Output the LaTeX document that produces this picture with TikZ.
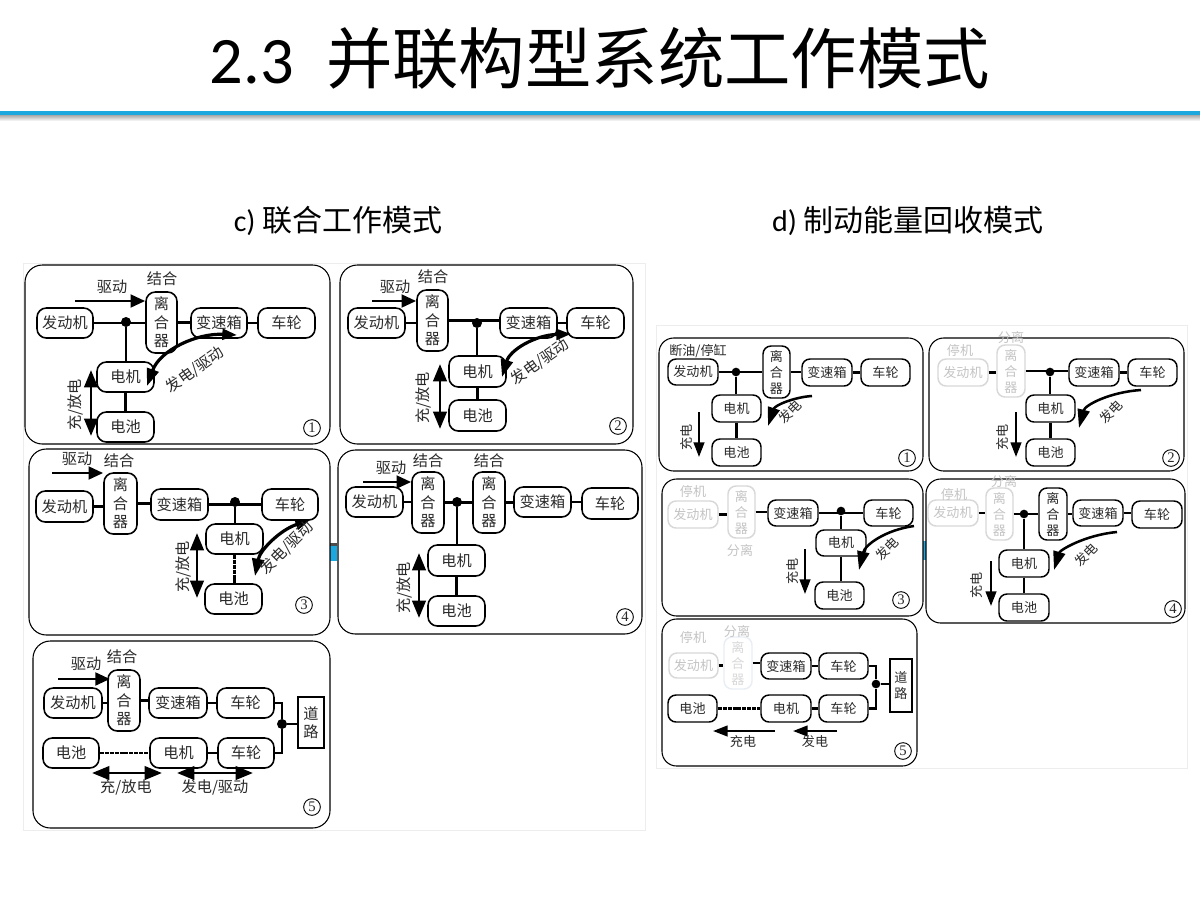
\documentclass[tikz,border=0pt]{standalone}
\usepackage{fontspec}
\setmainfont{Noto Sans CJK SC}
\newfontfamily\latfont{Carlito}
\newfontfamily\numfont{Liberation Serif}
\usetikzlibrary{arrows.meta}
\definecolor{ink}{HTML}{2A2A2A}
\definecolor{ghost}{HTML}{D8D8D8}
\definecolor{ghosttext}{HTML}{C4C4C4}
\definecolor{paleb}{HTML}{E9EEF4}
\definecolor{bar}{HTML}{1CA7DF}
\definecolor{edge}{HTML}{EDEDED}
\tikzset{
  boxbase/.style={draw=black,fill=white,rounded corners=7pt,inner sep=0pt,line width=1.2pt,text=ink,align=center},
  lbox/.style={boxbase,font=\fontsize{11.4}{13.8}\selectfont},
  rbox/.style={boxbase,rounded corners=6pt,line width=1.1pt,font=\fontsize{9.8}{12}\selectfont},
  gbox/.style={rbox,draw=ghost,text=ghosttext},
  pbox/.style={rbox,draw=paleb,text=ghost},
  square/.style={lbox,rounded corners=0pt},
  rsquare/.style={rbox,rounded corners=0pt},
  lpanel/.style={draw=black,fill=white,rounded corners=13pt,line width=.8pt},
  rpanel/.style={lpanel,rounded corners=11pt},
  lnk/.style={draw=black,line width=2.2pt},
  dlnk/.style={draw=black,line width=1.9pt,dash pattern=on 3pt off .7pt},
  dotn/.style={circle,fill=black,inner sep=0pt,minimum size=7.5pt},
  rdot/.style={dotn,minimum size=6.5pt},
  ltxt/.style={font=\fontsize{11.4}{13}\selectfont,text=ink,inner sep=0pt},
  rtxt/.style={font=\fontsize{9.8}{12}\selectfont,text=ink,inner sep=0pt},
  gtxt/.style={rtxt,text=ghosttext},
  cnum/.style={circle,draw=black,fill=white,line width=.7pt,inner sep=0pt,minimum size=12.5pt,font=\numfont\fontsize{11}{11}\selectfont,text=ink},
  larrow/.style={line width=2.2pt,-{Triangle[length=11pt,width=9.5pt]}},
  ldouble/.style={line width=2.2pt,{Triangle[length=13pt,width=10pt]}-{Triangle[length=13pt,width=10pt]}},
  rarrow/.style={line width=1.7pt,-{Triangle[length=11pt,width=8pt]}},
  lcurve/.style={line width=2.4pt,{Triangle[length=11pt,width=8pt]}-{Triangle[length=13pt,width=9pt]}},
  rcurve/.style={line width=1.9pt,-{Triangle[length=14pt,width=9pt]}},
  frameb/.style={draw=edge,fill=white,line width=.6pt},
}
\newcommand\bx[7][lbox]{\node[#1,minimum width={(#5-#3)*0.75pt},minimum height={(#6-#4)*0.75pt}] (#2) at ({(#3+#5)/2},{(#4+#6)/2}) {#7};}
\newcommand\hl[2]{\draw[lnk] (#1.east) -- (#1.east -| #2.west);}
\newcommand\vl[2]{\draw[lnk] (#1.south) -- (#1.south |- #2.north);}
\newcommand\dvl[2]{\draw[dlnk] (#1.south) -- (#1.south |- #2.north);}
\newcommand\tap[2]{\draw[lnk] (#1) -- (#1 |- #2.north);}
\newcommand\clut{离\\合\\器}
\begin{document}
\begin{tikzpicture}[x=0.75pt,y=-0.75pt]
\useasboundingbox (0,0) rectangle (1200,900);
\fill[white] (0,0) rectangle (1200,900);
% header
\node[inner sep=0pt,font=\fontsize{49.8}{52}\selectfont,text=black] (title) at (600,58) {{\latfont 2.3}\hspace{24pt}并联构型系统工作模式};
\shade[top color=black!40,bottom color=white] (0,114) rectangle (1200,121);
\fill[bar] (0,111) rectangle (1200,114.5);
\node[inner sep=0pt,font=\fontsize{22.5}{24}\selectfont,text=black] (headc) at (338,221) {{\latfont c)} 联合工作模式};
\node[inner sep=0pt,font=\fontsize{22.5}{24}\selectfont,text=black] (headd) at (908,221) {{\latfont d)} 制动能量回收模式};
% frames of the two images
\draw[frameb] (23,263) rectangle (645,830);
\draw[frameb] (656,325) rectangle (1187,768);
\fill[black!70] (329,543) rectangle (337,546);
\fill[bar] (329,546) rectangle (337,561);
\fill[bar] (922,541) rectangle (926,560);

% ---------- c 1
\draw[lpanel] (25,265) rectangle (330,444);
\bx{a-eng}{37}{308}{93}{338}{发动机}
\bx{a-cl}{146}{292}{177}{353}{\clut}
\bx{a-gb}{191}{308}{247}{338}{变速箱}
\bx{a-wh}{258}{308}{315}{338}{车轮}
\bx{a-mo}{97}{362}{154}{392}{电机}
\bx{a-ba}{97}{412}{154}{442}{电池}
\node[dotn] (a-j) at (126,322) {};
\hl{a-eng}{a-cl}\hl{a-cl}{a-gb}\hl{a-gb}{a-wh}\tap{a-j}{a-mo}\vl{a-mo}{a-ba}
\coordinate (a-s) at (75,301); \coordinate (a-u) at (91,370); \coordinate (a-v) at (91,436);
\coordinate (a-p) at (237,335); \coordinate (a-q) at (147,386);
\draw[larrow] (a-s) -- (a-s -| a-cl.west);
\draw[ldouble] (a-u) -- (a-v);
\draw[lcurve] (a-p) .. controls (197,333) and (160,350) .. (a-q);
\node[ltxt] (a-t1) at (112,287) {驱动};
\node[ltxt] (a-t2) at (162,279) {结合};
\node[ltxt,rotate=90] (a-t3) at (75,405) {充/放电};
\node[ltxt,rotate=35] (a-t4) at (195,370) {发电/驱动};
\node[cnum] (a-n) at (312,428) {1};

% ---------- c 2
\draw[lpanel] (340,265) rectangle (633,444);
\bx{b-eng}{348}{308}{405}{338}{发动机}
\bx{b-cl}{417}{290}{448}{351}{\clut}
\bx{b-gb}{500}{308}{557}{338}{变速箱}
\bx{b-wh}{567}{308}{624}{338}{车轮}
\bx{b-mo}{449}{356}{506}{387}{电机}
\bx{b-ba}{449}{400}{506}{431}{电池}
\node[dotn] (b-j) at (477,323) {};
\hl{b-eng}{b-cl}\hl{b-cl}{b-gb}\hl{b-gb}{b-wh}\tap{b-j}{b-mo}\vl{b-mo}{b-ba}
\coordinate (b-s) at (372,301); \coordinate (b-u) at (440,364); \coordinate (b-v) at (440,429);
\coordinate (b-p) at (571,334); \coordinate (b-q) at (502,377);
\draw[larrow] (b-s) -- (b-s -| b-cl.west);
\draw[ldouble] (b-u) -- (b-v);
\draw[lcurve] (b-p) .. controls (535,335) and (510,350) .. (b-q);
\node[ltxt] (b-t1) at (395,287) {驱动};
\node[ltxt] (b-t2) at (433,277) {结合};
\node[ltxt,rotate=90] (b-t3) at (423,398) {充/放电};
\node[ltxt,rotate=35] (b-t4) at (540,362) {发电/驱动};
\node[cnum] (b-n) at (618,426) {2};

% ---------- c 3
\draw[lpanel] (29,449) rectangle (330,635);
\bx{c-eng}{36}{491}{93}{522}{发动机}
\bx{c-cl}{104}{473}{137}{534}{\clut}
\bx{c-gb}{151}{489}{208}{520}{变速箱}
\bx{c-wh}{262}{489}{318}{520}{车轮}
\bx{c-mo}{206}{524}{263}{554}{电机}
\bx{c-ba}{205}{584}{262}{614}{电池}
\node[dotn] (c-j) at (235,502) {};
\hl{c-eng}{c-cl}\hl{c-cl}{c-gb}\hl{c-gb}{c-wh}\tap{c-j}{c-mo}\dvl{c-mo}{c-ba}
\coordinate (c-s) at (52,473); \coordinate (c-u) at (197,533); \coordinate (c-v) at (197,598);
\coordinate (c-p) at (310,520); \coordinate (c-q) at (255,576);
\draw[larrow] (c-s) -- (c-s -| c-cl.west);
\draw[ldouble] (c-u) -- (c-v);
\draw[lcurve] (c-p) .. controls (280,530) and (260,550) .. (c-q);
\node[ltxt] (c-t1) at (77,459) {驱动};
\node[ltxt] (c-t2) at (119,461) {结合};
\node[ltxt,rotate=90] (c-t3) at (183,567) {充/放电};
\node[ltxt,rotate=45] (c-t4) at (287,548) {发电/驱动};
\node[cnum] (c-n) at (304,605) {3};

% ---------- c 4
\draw[lpanel] (338,450) rectangle (642,634);
\bx{d-eng}{346}{487}{403}{517}{发动机}
\bx{d-cl}{412}{472}{444}{533}{\clut}
\bx{d-cm}{473}{472}{505}{533}{\clut}
\bx{d-gb}{514}{487}{571}{517}{变速箱}
\bx{d-wh}{582}{488}{638}{519}{车轮}
\bx{d-mo}{428}{545}{485}{576}{电机}
\bx{d-ba}{428}{596}{485}{626}{电池}
\node[dotn] (d-j) at (457,502) {};
\hl{d-eng}{d-cl}\hl{d-cl}{d-cm}\hl{d-cm}{d-gb}\hl{d-gb}{d-wh}\tap{d-j}{d-mo}\vl{d-mo}{d-ba}
\coordinate (d-s) at (363,482); \coordinate (d-u) at (419,553); \coordinate (d-v) at (419,618);
\draw[larrow] (d-s) -- (d-s -| d-cl.west);
\draw[ldouble] (d-u) -- (d-v);
\node[ltxt] (d-t1) at (391,468) {驱动};
\node[ltxt] (d-t2) at (428,461) {结合};
\node[ltxt] (d-t5) at (489,461) {结合};
\node[ltxt,rotate=90] (d-t3) at (404,588) {充/放电};
\node[cnum] (d-n) at (625,617) {4};

% ---------- c 5
\draw[lpanel] (33,641) rectangle (330,828);
\bx{e-eng}{44}{688}{102}{718}{发动机}
\bx{e-cl}{108}{670}{140}{731}{\clut}
\bx{e-gb}{149}{688}{207}{718}{变速箱}
\bx{e-wh}{217}{688}{274}{718}{车轮}
\bx{e-ba}{43}{738}{99}{768}{电池}
\bx{e-mo}{150}{738}{207}{768}{电机}
\bx{e-wi}{218}{738}{274}{768}{车轮}
\bx[square]{e-rd}{298}{697}{324}{748}{道\\路}
\node[dotn] (e-j) at (282,724) {};
\hl{e-eng}{e-cl}\hl{e-cl}{e-gb}\hl{e-gb}{e-wh}\hl{e-mo}{e-wi}
\draw[dlnk] (e-ba.east) -- (e-ba.east -| e-mo.west);
\draw[lnk] (e-wh.east) -| (e-j);
\draw[lnk] (e-wi.east) -| (e-j);
\draw[lnk] (e-j) -- (e-j -| e-rd.west);
\coordinate (e-s) at (58,679);
\coordinate (e-u1) at (92,773); \coordinate (e-v1) at (162,773);
\coordinate (e-u2) at (177,773); \coordinate (e-v2) at (253,773);
\draw[larrow] (e-s) -- (110,679);
\draw[ldouble] (e-u1) -- (e-v1);
\draw[ldouble] (e-u2) -- (e-v2);
\node[ltxt] (e-t1) at (86,664) {驱动};
\node[ltxt] (e-t2) at (122,657) {结合};
\node[ltxt] (e-t3) at (126,787) {充/放电};
\node[ltxt] (e-t4) at (215,787) {发电/驱动};
\node[cnum] (e-n) at (312,807) {5};

% ---------- d 1
\draw[rpanel] (659,338) rectangle (923,471);
\bx[rbox]{f-eng}{668}{359}{718}{385}{发动机}
\bx[rbox]{f-cl}{763}{346}{790}{398}{\clut}
\bx[rbox]{f-gb}{802}{359}{852}{386}{变速箱}
\bx[rbox]{f-wh}{861}{359}{910}{386}{车轮}
\bx[rbox]{f-mo}{712}{395}{761}{422}{电机}
\bx[rbox]{f-ba}{712}{439}{761}{466}{电池}
\node[rdot] (f-j) at (736,372) {};
\hl{f-eng}{f-cl}\hl{f-cl}{f-gb}\hl{f-gb}{f-wh}\tap{f-j}{f-mo}\vl{f-mo}{f-ba}
\coordinate (f-u) at (699,412); \coordinate (f-v) at (699,457);
\coordinate (f-p) at (812,396); \coordinate (f-q) at (768,426);
\draw[rarrow] (f-u) -- (f-v);
\draw[rcurve] (f-p) .. controls (795,397) and (775,405) .. (f-q);
\node[rtxt] (f-t1) at (698,351) {断油/停缸};
\node[rtxt,rotate=90] (f-t3) at (687,437) {充电};
\node[rtxt,rotate=45] (f-t4) at (790,412) {发电};
\node[cnum] (f-n) at (907,458) {1};

% ---------- d 2
\draw[rpanel] (929,338) rectangle (1184,471);
\bx[gbox]{g-eng}{938}{359}{988}{386}{发动机}
\bx[gbox]{g-cl}{997}{345}{1025}{397}{\clut}
\bx[rbox]{g-gb}{1069}{359}{1119}{386}{变速箱}
\bx[rbox]{g-wh}{1128}{359}{1177}{386}{车轮}
\bx[rbox]{g-mo}{1026}{395}{1075}{422}{电机}
\bx[rbox]{g-ba}{1026}{439}{1075}{466}{电池}
\node[rdot] (g-j) at (1050,372) {};
\hl{g-eng}{g-cl}\hl{g-cl}{g-gb}\hl{g-gb}{g-wh}\tap{g-j}{g-mo}\vl{g-mo}{g-ba}
\coordinate (g-u) at (1016,412); \coordinate (g-v) at (1016,457);
\coordinate (g-p) at (1141,390); \coordinate (g-q) at (1079,428);
\draw[rarrow] (g-u) -- (g-v);
\draw[rcurve] (g-p) .. controls (1110,392) and (1085,405) .. (g-q);
\node[gtxt] (g-t1) at (960,350) {停机};
\node[gtxt] (g-t2) at (1011,338) {分离};
\node[rtxt,rotate=90] (g-t3) at (1003,437) {充电};
\node[rtxt,rotate=45] (g-t4) at (1111,412) {发电};
\node[cnum] (g-n) at (1171,458) {2};

% ---------- d 3
\draw[rpanel] (662,479) rectangle (923,616);
\bx[gbox]{h-eng}{668}{501}{718}{528}{发动机}
\bx[gbox]{h-cl}{728}{486}{755}{538}{\clut}
\bx[rbox]{h-gb}{768}{500}{818}{526}{变速箱}
\bx[rbox]{h-wh}{864}{500}{913}{526}{车轮}
\bx[rbox]{h-mo}{816}{530}{866}{556}{电机}
\bx[rbox]{h-ba}{815}{582}{864}{609}{电池}
\node[rdot] (h-j) at (841,511) {};
\hl{h-eng}{h-cl}\hl{h-cl}{h-gb}\hl{h-gb}{h-wh}\tap{h-j}{h-mo}\vl{h-mo}{h-ba}
\coordinate (h-u) at (805,549); \coordinate (h-v) at (805,594);
\coordinate (h-p) at (914,526); \coordinate (h-q) at (859,570);
\draw[rarrow] (h-u) -- (h-v);
\draw[rcurve] (h-p) .. controls (885,530) and (865,545) .. (h-q);
\node[gtxt] (h-t1) at (693,491) {停机};
\node[gtxt] (h-t2) at (740,551) {分离};
\node[rtxt,rotate=90] (h-t3) at (793,571) {充电};
\node[rtxt,rotate=45] (h-t4) at (887,549) {发电};
\node[cnum] (h-n) at (901,600) {3};

% ---------- d 4
\draw[rpanel] (926,479) rectangle (1185,623);
\bx[gbox]{i-eng}{928}{500}{978}{526}{发动机}
\bx[gbox]{i-cl}{986}{488}{1013}{540}{\clut}
\bx[rbox]{i-cm}{1039}{488}{1067}{540}{\clut}
\bx[rbox]{i-gb}{1073}{500}{1123}{526}{变速箱}
\bx[rbox]{i-wh}{1132}{501}{1182}{528}{车轮}
\bx[rbox]{i-mo}{999}{550}{1049}{577}{电机}
\bx[rbox]{i-ba}{999}{594}{1049}{621}{电池}
\node[rdot] (i-j) at (1024,514) {};
\hl{i-eng}{i-cl}\hl{i-cl}{i-cm}\hl{i-cm}{i-gb}\hl{i-gb}{i-wh}\tap{i-j}{i-mo}\vl{i-mo}{i-ba}
\coordinate (i-u) at (991,561); \coordinate (i-v) at (991,606);
\coordinate (i-p) at (1117,532); \coordinate (i-q) at (1054,570);
\draw[rarrow] (i-u) -- (i-v);
\draw[rcurve] (i-p) .. controls (1085,535) and (1060,550) .. (i-q);
\node[gtxt] (i-t1) at (954,494) {停机};
\node[gtxt] (i-t2) at (1004,482) {分离};
\node[rtxt,rotate=90] (i-t3) at (977,585) {充电};
\node[rtxt,rotate=45] (i-t4) at (1086,555) {发电};
\node[cnum] (i-n) at (1173,609) {4};

% ---------- d 5
\draw[rpanel] (662,619) rectangle (917,766);
\bx[gbox]{j-eng}{669}{653}{718}{678}{发动机}
\bx[pbox]{j-cl}{724}{637}{752}{689}{\clut}
\bx[rbox]{j-gb}{761}{653}{811}{679}{变速箱}
\bx[rbox]{j-wh}{819}{653}{868}{679}{车轮}
\bx[rbox]{j-ba}{668}{695}{717}{722}{电池}
\bx[rbox]{j-mo}{761}{695}{811}{722}{电机}
\bx[rbox]{j-wi}{819}{695}{868}{722}{车轮}
\bx[rsquare]{j-rd}{890}{659}{912}{712}{道\\路}
\node[rdot] (j-j) at (876,684) {};
\hl{j-eng}{j-cl}\hl{j-cl}{j-gb}\hl{j-gb}{j-wh}\hl{j-mo}{j-wi}
\draw[dlnk] (j-ba.east) -- (j-ba.east -| j-mo.west);
\draw[lnk] (j-wh.east) -| (j-j);
\draw[lnk] (j-wi.east) -| (j-j);
\draw[lnk] (j-j) -- (j-j -| j-rd.west);
\coordinate (j-u1) at (775,731); \coordinate (j-v1) at (713,731);
\coordinate (j-u2) at (837,731); \coordinate (j-v2) at (793,731);
\draw[rarrow] (j-u1) -- (j-v1);
\draw[rarrow] (j-u2) -- (j-v2);
\node[gtxt] (j-t1) at (693,637) {停机};
\node[gtxt] (j-t2) at (737,631) {分离};
\node[rtxt] (j-t3) at (743,742) {充电};
\node[rtxt] (j-t4) at (815,742) {发电};
\node[cnum] (j-n) at (903,751) {5};
\end{tikzpicture}
\end{document}
